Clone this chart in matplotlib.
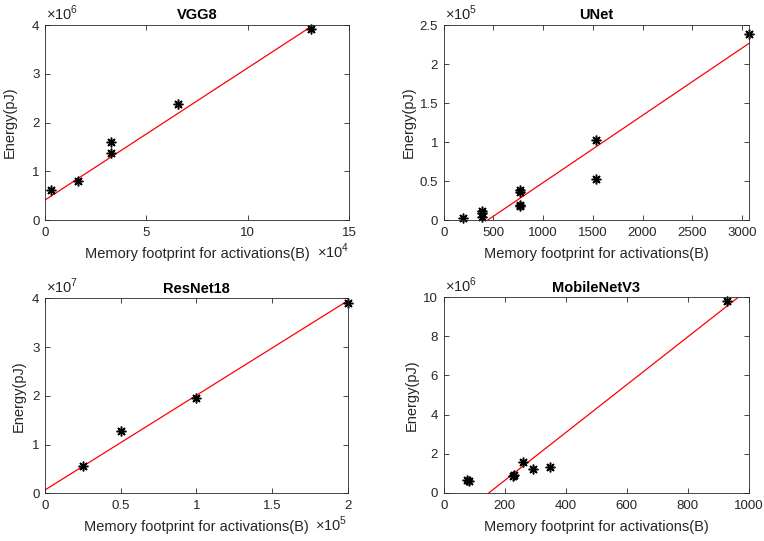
import numpy as np
import matplotlib
matplotlib.use("Agg")
import matplotlib.pyplot as plt
from matplotlib.ticker import FuncFormatter

plt.rcParams['font.family'] = ['Liberation Sans', 'DejaVu Sans']
plt.rcParams['mathtext.fontset'] = 'custom'
plt.rcParams['mathtext.rm'] = 'Liberation Sans'

GRAY = '#262626'

# data (memory in B, energy in pJ)
vgg_x = [3072, 16384, 32768, 32768, 65536, 131072]
vgg_y = [0.61e6, 0.80e6, 1.37e6, 1.60e6, 2.38e6, 3.92e6]
vgg_fit = [27.1, 0.41e6]          # slope, intercept

unet_x = [192, 384, 384, 384, 768, 768, 768, 768, 1536, 1536, 3072]
unet_y = [0.03e5, 0.04e5, 0.09e5, 0.11e5, 0.18e5, 0.19e5, 0.36e5, 0.39e5,
          1.03e5, 0.53e5, 2.39e5]
unet_fit = [86.2, -0.382e5]

res_x = [25000, 50000, 100000, 200000]
res_y = [0.56e7, 1.285e7, 1.96e7, 3.9e7]
res_fit = [194.1, 0.068e7]

mob_x = [76, 84, 228, 232, 260, 292, 348, 930]
mob_y = [0.66e6, 0.62e6, 0.84e6, 0.90e6, 1.59e6, 1.20e6, 1.31e6, 9.83e6]
mob_fit = [12240, -1.82e6]

panels = [
    # title, x, y, fit, xlim, xticks, xscale, ylim, yticks, yscale, rect, ylabel offset (px)
    ("VGG8", vgg_x, vgg_y, vgg_fit, (0, 15e4), np.arange(0, 15.1e4, 5e4), 4,
     (0, 4e6), np.arange(0, 4.1e6, 1e6), 6, [0.0589, 0.5933, 0.3979, 0.3604], 28),
    ("UNet", unet_x, unet_y, unet_fit, (0, 3076), np.arange(0, 3001, 500), 0,
     (0, 2.5e5), np.arange(0, 2.51e5, 0.5e5), 5, [0.5808, 0.5933, 0.4002, 0.3604], 28),
    ("ResNet18", res_x, res_y, res_fit, (0, 2e5), np.arange(0, 2.01e5, 0.5e5), 5,
     (0, 4e7), np.arange(0, 4.1e7, 1e7), 7, [0.0589, 0.0882, 0.3962, 0.3604], 19),
    ("MobileNetV3", mob_x, mob_y, mob_fit, (0, 1000), np.arange(0, 1001, 200), 0,
     (0, 10e6), np.arange(0, 10.1e6, 2e6), 6, [0.5808, 0.0893, 0.3992, 0.3612], 25),
]

fig = plt.figure(figsize=(7.64, 5.41), dpi=100)

for title, x, y, fit, xlim, xticks, xs, ylim, yticks, ys, rect, yoff in panels:
    ax = fig.add_axes(rect)
    xx = np.array(xlim)
    ax.plot(xx, fit[0] * xx + fit[1], color='red', lw=0.9)
    ax.plot(x, y, linestyle='none', marker=(8, 2, 0), color='black',
            markersize=7, markeredgewidth=1.1, clip_on=False)
    ax.set_xlim(xlim)
    ax.set_ylim(ylim)
    ax.set_xticks(xticks)
    ax.set_yticks(yticks)
    ax.xaxis.set_major_formatter(FuncFormatter(lambda v, p, s=xs: '%g' % (v / 10 ** s)))
    ax.yaxis.set_major_formatter(FuncFormatter(lambda v, p, s=ys: '%g' % (v / 10 ** s)))
    ax.tick_params(direction='in', top=True, right=True, length=3.5, width=0.6,
                   colors=GRAY, labelsize=9.5)
    ax.tick_params(axis='x', pad=5)
    ax.tick_params(axis='y', pad=4)
    for sp in ax.spines.values():
        sp.set_color(GRAY)
        sp.set_linewidth(0.6)
    ax.set_title(title, fontsize=10.5, fontweight='bold', pad=4)
    ax.set_xlabel('Memory footprint for activations(B)', fontsize=10.5, color=GRAY)
    ax.set_ylabel('Energy(pJ)', fontsize=10.5, color=GRAY)
    w_px = rect[2] * 764
    h_px = rect[3] * 541
    ax.xaxis.set_label_coords(0.5, -27 / h_px)
    ax.yaxis.set_label_coords(-yoff / w_px, 0.5)
    # MATLAB-style exponent labels
    ax.annotate(r'$\times10^{%d}$' % ys, xy=(0, 1), xycoords='axes fraction',
                xytext=(1, 1.5), textcoords='offset points', ha='left', va='bottom',
                fontsize=10.5, color=GRAY)
    if xs:
        ax.annotate(r'$\times10^{%d}$' % xs, xy=(1, 0), xycoords='axes fraction',
                    xytext=(0, -27.5), textcoords='offset points', ha='right',
                    va='baseline', fontsize=10.5, color=GRAY)

fig.savefig('out.png', dpi=100)
